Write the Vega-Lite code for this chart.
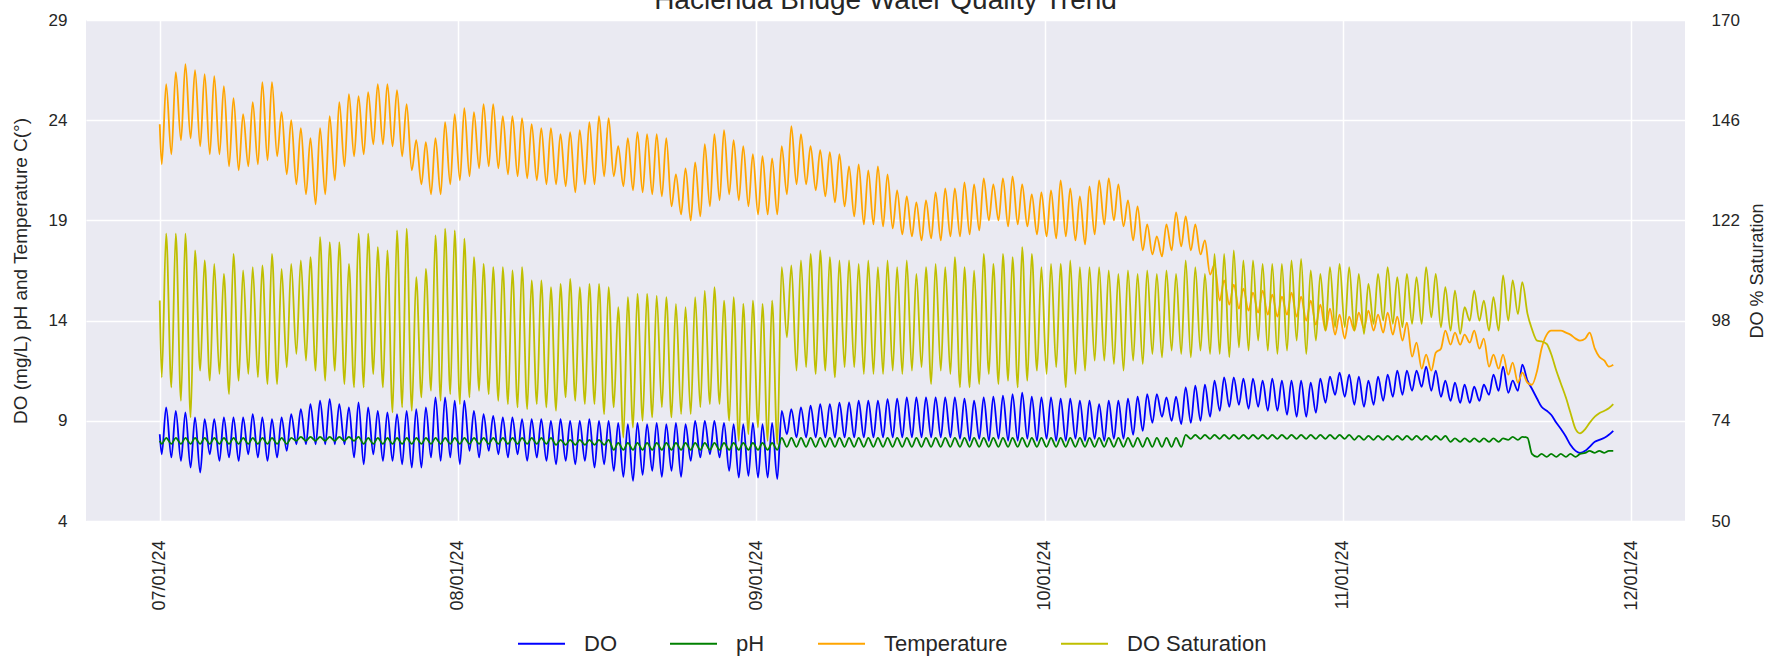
{
"$schema":"https://vega.github.io/schema/vega-lite/v6.json",
"width":1599,"height":501,"autosize":"none",
"padding":{"left":86,"top":20,"right":104,"bottom":139},
"title":{"text":"Hacienda Bridge Water Quality Trend","fontSize":28,"font":"Liberation Sans","fontWeight":"normal","color":"#262626","anchor":"middle","frame":"group","offset":-4},
"config":{
"view":{"fill":"#EAEAF2","stroke":null},
"font":"Liberation Sans",
"axis":{"domain":false,"ticks":false,"tickSize":0,"labelColor":"#262626","titleColor":"#262626","labelFont":"Liberation Sans","titleFont":"Liberation Sans","titleFontWeight":"normal","gridColor":"#FFFFFF","gridWidth":1.5,"gridOpacity":1,"labelFontSize":17,"titleFontSize":18},
"legend":{"labelFont":"Liberation Sans","labelColor":"#262626"}
},
"data":{"values":[
{"t":"2024-07-01T00:00","T":23.8,"S":102.8,"DO":8.33,"pH":8.0},
{"t":"2024-07-01T05:00","T":21.8,"S":84.4,"DO":7.33,"pH":7.85},{"t":"2024-07-01T16:00","T":25.8,"S":118.8,"DO":9.67,"pH":8.15},
{"t":"2024-07-02T05:00","T":22.3,"S":82,"DO":7.17,"pH":7.85},{"t":"2024-07-02T16:00","T":26.4,"S":118.8,"DO":9.5,"pH":8.15},
{"t":"2024-07-03T05:00","T":23.0,"S":78.8,"DO":7.0,"pH":7.85},{"t":"2024-07-03T16:00","T":26.8,"S":118.8,"DO":9.42,"pH":8.15},
{"t":"2024-07-04T05:00","T":23.1,"S":74.8,"DO":6.67,"pH":7.85},{"t":"2024-07-04T16:00","T":26.5,"S":114.8,"DO":9.17,"pH":8.15},
{"t":"2024-07-05T05:00","T":22.7,"S":86,"DO":6.42,"pH":7.85},{"t":"2024-07-05T16:00","T":26.3,"S":112.4,"DO":9.08,"pH":8.15},
{"t":"2024-07-06T05:00","T":22.3,"S":83.6,"DO":7.33,"pH":7.85},{"t":"2024-07-06T16:00","T":26.2,"S":111.6,"DO":9.08,"pH":8.15},
{"t":"2024-07-07T05:00","T":22.3,"S":85.2,"DO":7.0,"pH":7.85},{"t":"2024-07-07T16:00","T":25.7,"S":109.2,"DO":9.17,"pH":8.15},
{"t":"2024-07-08T05:00","T":21.7,"S":80.4,"DO":7.17,"pH":7.85},{"t":"2024-07-08T16:00","T":25.1,"S":114,"DO":9.17,"pH":8.15},
{"t":"2024-07-09T05:00","T":21.5,"S":83.6,"DO":7.0,"pH":7.85},{"t":"2024-07-09T16:00","T":24.3,"S":110,"DO":9.17,"pH":8.15},
{"t":"2024-07-10T05:00","T":21.7,"S":85.2,"DO":7.33,"pH":7.85},{"t":"2024-07-10T16:00","T":24.9,"S":110.8,"DO":9.33,"pH":8.15},
{"t":"2024-07-11T05:00","T":21.8,"S":84.4,"DO":7.17,"pH":7.85},{"t":"2024-07-11T16:00","T":25.9,"S":111.2,"DO":9.17,"pH":8.15},
{"t":"2024-07-12T05:00","T":22.0,"S":82.8,"DO":7.0,"pH":7.85},{"t":"2024-07-12T16:00","T":25.9,"S":114,"DO":9.08,"pH":8.15},
{"t":"2024-07-13T05:00","T":22.2,"S":82.8,"DO":7.17,"pH":7.85},{"t":"2024-07-13T16:00","T":24.4,"S":110.4,"DO":9.17,"pH":8.15},
{"t":"2024-07-14T05:00","T":21.3,"S":86.8,"DO":7.5,"pH":7.85},{"t":"2024-07-14T16:00","T":24.0,"S":111.6,"DO":9.33,"pH":8.15},
{"t":"2024-07-15T05:00","T":20.8,"S":90,"DO":7.83,"pH":8.0},{"t":"2024-07-15T16:00","T":23.6,"S":112.4,"DO":9.58,"pH":8.2},
{"t":"2024-07-16T05:00","T":20.3,"S":88.4,"DO":7.83,"pH":8.0},{"t":"2024-07-16T16:00","T":23.1,"S":113.2,"DO":9.83,"pH":8.2},
{"t":"2024-07-17T05:00","T":19.8,"S":86,"DO":7.83,"pH":8.0},{"t":"2024-07-17T16:00","T":23.6,"S":118,"DO":10.0,"pH":8.2},
{"t":"2024-07-18T05:00","T":20.3,"S":83.6,"DO":7.83,"pH":8.0},{"t":"2024-07-18T16:00","T":24.2,"S":116.8,"DO":10.08,"pH":8.2},
{"t":"2024-07-19T05:00","T":21.0,"S":86,"DO":7.83,"pH":8.0},{"t":"2024-07-19T16:00","T":24.9,"S":116.8,"DO":9.83,"pH":8.2},
{"t":"2024-07-20T05:00","T":21.7,"S":82.8,"DO":7.83,"pH":8.0},{"t":"2024-07-20T16:00","T":25.3,"S":111.6,"DO":9.67,"pH":8.2},
{"t":"2024-07-21T05:00","T":22.2,"S":82,"DO":7.17,"pH":8.0},{"t":"2024-07-21T16:00","T":25.2,"S":118.8,"DO":9.92,"pH":8.2},
{"t":"2024-07-22T05:00","T":22.3,"S":82,"DO":6.83,"pH":7.85},{"t":"2024-07-22T16:00","T":25.4,"S":118.8,"DO":9.67,"pH":8.15},
{"t":"2024-07-23T05:00","T":22.8,"S":85.2,"DO":7.33,"pH":7.85},{"t":"2024-07-23T16:00","T":25.8,"S":115.6,"DO":9.5,"pH":8.15},
{"t":"2024-07-24T05:00","T":22.8,"S":82,"DO":7.0,"pH":7.85},{"t":"2024-07-24T16:00","T":25.8,"S":114.8,"DO":9.42,"pH":8.15},
{"t":"2024-07-25T05:00","T":22.7,"S":76,"DO":7.0,"pH":7.85},{"t":"2024-07-25T16:00","T":25.5,"S":119.6,"DO":9.33,"pH":8.15},
{"t":"2024-07-26T05:00","T":22.2,"S":77.2,"DO":6.83,"pH":7.85},{"t":"2024-07-26T16:00","T":24.8,"S":120,"DO":9.5,"pH":8.15},
{"t":"2024-07-27T05:00","T":21.5,"S":76.4,"DO":6.67,"pH":7.85},{"t":"2024-07-27T16:00","T":23.0,"S":108.4,"DO":9.58,"pH":8.15},
{"t":"2024-07-28T05:00","T":20.8,"S":79.6,"DO":6.67,"pH":7.85},{"t":"2024-07-28T16:00","T":22.9,"S":110.4,"DO":9.67,"pH":8.15},
{"t":"2024-07-29T05:00","T":20.3,"S":81.2,"DO":7.17,"pH":7.85},{"t":"2024-07-29T16:00","T":23.1,"S":118.4,"DO":10.17,"pH":8.15},
{"t":"2024-07-30T05:00","T":20.3,"S":78.8,"DO":7.0,"pH":7.85},{"t":"2024-07-30T16:00","T":23.9,"S":120,"DO":10.17,"pH":8.15},
{"t":"2024-07-31T05:00","T":20.8,"S":80.4,"DO":7.17,"pH":7.85},{"t":"2024-07-31T16:00","T":24.3,"S":119.6,"DO":10.0,"pH":8.15},
{"t":"2024-08-01T05:00","T":21.0,"S":78,"DO":6.83,"pH":7.85},{"t":"2024-08-01T16:00","T":24.6,"S":117.6,"DO":10.0,"pH":8.15},
{"t":"2024-08-02T05:00","T":21.2,"S":79.6,"DO":7.5,"pH":7.85},{"t":"2024-08-02T16:00","T":24.4,"S":113.2,"DO":9.5,"pH":8.15},
{"t":"2024-08-03T05:00","T":21.6,"S":81.2,"DO":7.17,"pH":7.85},{"t":"2024-08-03T16:00","T":24.8,"S":111.6,"DO":9.33,"pH":8.15},
{"t":"2024-08-04T05:00","T":21.7,"S":80.4,"DO":7.5,"pH":7.85},{"t":"2024-08-04T16:00","T":24.8,"S":110.8,"DO":9.25,"pH":8.15},
{"t":"2024-08-05T05:00","T":21.6,"S":78.8,"DO":7.33,"pH":7.85},{"t":"2024-08-05T16:00","T":24.2,"S":110.8,"DO":9.17,"pH":8.15},
{"t":"2024-08-06T05:00","T":21.3,"S":78,"DO":7.17,"pH":7.85},{"t":"2024-08-06T16:00","T":24.2,"S":110,"DO":9.17,"pH":8.15},
{"t":"2024-08-07T05:00","T":21.2,"S":77.2,"DO":7.33,"pH":7.85},{"t":"2024-08-07T16:00","T":24.1,"S":110.8,"DO":9.08,"pH":8.15},
{"t":"2024-08-08T05:00","T":21.1,"S":76.8,"DO":7.0,"pH":7.85},{"t":"2024-08-08T16:00","T":23.8,"S":107.6,"DO":9.08,"pH":8.15},
{"t":"2024-08-09T05:00","T":21.0,"S":78,"DO":7.17,"pH":7.85},{"t":"2024-08-09T16:00","T":23.6,"S":107.6,"DO":9.08,"pH":8.15},
{"t":"2024-08-10T05:00","T":20.8,"S":77.2,"DO":7.0,"pH":7.85},{"t":"2024-08-10T16:00","T":23.6,"S":106,"DO":9.0,"pH":8.15},
{"t":"2024-08-11T05:00","T":20.8,"S":76.4,"DO":6.83,"pH":7.8},{"t":"2024-08-11T16:00","T":23.3,"S":106.8,"DO":9.08,"pH":8.05},
{"t":"2024-08-12T05:00","T":20.7,"S":79.6,"DO":7.0,"pH":7.8},{"t":"2024-08-12T16:00","T":23.4,"S":108,"DO":9.0,"pH":8.05},
{"t":"2024-08-13T05:00","T":20.4,"S":78.8,"DO":6.83,"pH":7.8},{"t":"2024-08-13T16:00","T":23.5,"S":106,"DO":9.0,"pH":8.05},
{"t":"2024-08-14T05:00","T":20.8,"S":78,"DO":7.0,"pH":7.8},{"t":"2024-08-14T16:00","T":23.9,"S":106.8,"DO":9.08,"pH":8.05},
{"t":"2024-08-15T05:00","T":20.8,"S":78,"DO":6.67,"pH":7.8},{"t":"2024-08-15T16:00","T":24.2,"S":106.8,"DO":9.0,"pH":8.05},
{"t":"2024-08-16T05:00","T":21.2,"S":75.6,"DO":6.83,"pH":7.8},{"t":"2024-08-16T16:00","T":24.1,"S":106,"DO":9.0,"pH":8.05},
{"t":"2024-08-17T05:00","T":21.2,"S":77.2,"DO":6.5,"pH":7.55},{"t":"2024-08-17T16:00","T":22.7,"S":101.2,"DO":8.9,"pH":7.9},
{"t":"2024-08-18T05:00","T":20.7,"S":70,"DO":6.2,"pH":7.55},{"t":"2024-08-18T16:00","T":23.1,"S":103.6,"DO":8.83,"pH":7.9},
{"t":"2024-08-19T05:00","T":20.5,"S":72.4,"DO":6.0,"pH":7.55},{"t":"2024-08-19T16:00","T":23.4,"S":104.4,"DO":8.9,"pH":7.9},
{"t":"2024-08-20T05:00","T":20.4,"S":74,"DO":6.3,"pH":7.55},{"t":"2024-08-20T16:00","T":23.3,"S":104.4,"DO":8.83,"pH":7.9},
{"t":"2024-08-21T05:00","T":20.3,"S":74.8,"DO":6.5,"pH":7.55},{"t":"2024-08-21T16:00","T":23.3,"S":104,"DO":8.9,"pH":7.9},
{"t":"2024-08-22T05:00","T":20.2,"S":77.2,"DO":6.2,"pH":7.55},{"t":"2024-08-22T16:00","T":23.1,"S":103.6,"DO":8.83,"pH":7.9},
{"t":"2024-08-23T05:00","T":19.7,"S":74.8,"DO":6.5,"pH":7.55},{"t":"2024-08-23T16:00","T":21.3,"S":102,"DO":8.9,"pH":7.9},
{"t":"2024-08-24T05:00","T":19.3,"S":75.6,"DO":6.2,"pH":7.55},{"t":"2024-08-24T16:00","T":21.6,"S":101.2,"DO":8.83,"pH":7.9},
{"t":"2024-08-25T05:00","T":19.0,"S":75.6,"DO":7.0,"pH":7.55},{"t":"2024-08-25T16:00","T":21.9,"S":103.6,"DO":9.0,"pH":7.9},
{"t":"2024-08-26T05:00","T":19.2,"S":77.2,"DO":7.17,"pH":7.55},{"t":"2024-08-26T16:00","T":22.8,"S":105.2,"DO":9.0,"pH":7.9},
{"t":"2024-08-27T05:00","T":19.7,"S":78,"DO":7.33,"pH":7.55},{"t":"2024-08-27T16:00","T":23.3,"S":106,"DO":9.0,"pH":7.9},
{"t":"2024-08-28T05:00","T":20.0,"S":78,"DO":7.17,"pH":7.55},{"t":"2024-08-28T16:00","T":23.5,"S":102.8,"DO":8.9,"pH":7.9},
{"t":"2024-08-29T05:00","T":20.3,"S":74,"DO":6.5,"pH":7.55},{"t":"2024-08-29T16:00","T":23.0,"S":103.6,"DO":8.83,"pH":7.9},
{"t":"2024-08-30T05:00","T":20.0,"S":69.2,"DO":6.17,"pH":7.55},{"t":"2024-08-30T16:00","T":22.7,"S":102,"DO":8.83,"pH":7.9},
{"t":"2024-08-31T05:00","T":19.7,"S":70.8,"DO":6.25,"pH":7.55},{"t":"2024-08-31T16:00","T":22.3,"S":102.8,"DO":8.9,"pH":7.9},
{"t":"2024-09-01T05:00","T":19.3,"S":72.4,"DO":6.17,"pH":7.55},{"t":"2024-09-01T16:00","T":22.2,"S":102,"DO":8.83,"pH":7.9},
{"t":"2024-09-02T05:00","T":19.3,"S":69.2,"DO":6.17,"pH":7.55},{"t":"2024-09-02T16:00","T":22.1,"S":102.8,"DO":8.9,"pH":7.9},
{"t":"2024-09-03T05:00","T":19.3,"S":68.4,"DO":6.1,"pH":7.55},{"t":"2024-09-03T16:00","T":22.7,"S":110.8,"DO":9.5,"pH":8.15},
{"t":"2024-09-04T05:00","T":20.3,"S":94,"DO":8.33,"pH":7.7},{"t":"2024-09-04T16:00","T":23.7,"S":111.2,"DO":9.58,"pH":8.15},
{"t":"2024-09-05T05:00","T":20.8,"S":86,"DO":8.17,"pH":7.7},{"t":"2024-09-05T16:00","T":23.3,"S":112.4,"DO":9.67,"pH":8.15},
{"t":"2024-09-06T05:00","T":20.8,"S":86.8,"DO":8.17,"pH":7.7},{"t":"2024-09-06T16:00","T":22.7,"S":114,"DO":9.75,"pH":8.15},
{"t":"2024-09-07T05:00","T":20.5,"S":85.2,"DO":8.17,"pH":7.7},{"t":"2024-09-07T16:00","T":22.5,"S":114.8,"DO":9.83,"pH":8.15},
{"t":"2024-09-08T05:00","T":20.2,"S":86,"DO":8.17,"pH":7.7},{"t":"2024-09-08T16:00","T":22.4,"S":113.2,"DO":9.83,"pH":8.15},
{"t":"2024-09-09T05:00","T":19.9,"S":84.4,"DO":8.17,"pH":7.7},{"t":"2024-09-09T16:00","T":22.3,"S":112.4,"DO":9.9,"pH":8.15},
{"t":"2024-09-10T05:00","T":19.7,"S":86.8,"DO":8.17,"pH":7.7},{"t":"2024-09-10T16:00","T":21.7,"S":112.4,"DO":9.92,"pH":8.15},
{"t":"2024-09-11T05:00","T":19.2,"S":86.8,"DO":8.17,"pH":7.7},{"t":"2024-09-11T16:00","T":21.8,"S":111.6,"DO":10.0,"pH":8.15},
{"t":"2024-09-12T05:00","T":18.8,"S":85.2,"DO":8.17,"pH":7.7},{"t":"2024-09-12T16:00","T":21.5,"S":112.4,"DO":10.0,"pH":8.15},
{"t":"2024-09-13T05:00","T":18.8,"S":85.2,"DO":8.17,"pH":7.7},{"t":"2024-09-13T16:00","T":21.7,"S":110.8,"DO":10.0,"pH":8.15},
{"t":"2024-09-14T05:00","T":18.7,"S":85.2,"DO":8.17,"pH":7.7},{"t":"2024-09-14T16:00","T":21.3,"S":112.4,"DO":10.08,"pH":8.15},
{"t":"2024-09-15T05:00","T":18.6,"S":86,"DO":8.17,"pH":7.7},{"t":"2024-09-15T16:00","T":20.5,"S":110.8,"DO":10.1,"pH":8.15},
{"t":"2024-09-16T05:00","T":18.3,"S":85.2,"DO":8.17,"pH":7.7},{"t":"2024-09-16T16:00","T":20.2,"S":112.4,"DO":10.17,"pH":8.15},
{"t":"2024-09-17T05:00","T":18.2,"S":86,"DO":8.17,"pH":7.7},{"t":"2024-09-17T16:00","T":19.9,"S":109.2,"DO":10.17,"pH":8.15},
{"t":"2024-09-18T05:00","T":18.0,"S":86.8,"DO":8.17,"pH":7.7},{"t":"2024-09-18T16:00","T":20.0,"S":110.8,"DO":10.17,"pH":8.15},
{"t":"2024-09-19T05:00","T":18.1,"S":82.8,"DO":8.17,"pH":7.7},{"t":"2024-09-19T16:00","T":20.4,"S":111.6,"DO":10.17,"pH":8.15},
{"t":"2024-09-20T05:00","T":18.0,"S":86,"DO":8.17,"pH":7.7},{"t":"2024-09-20T16:00","T":20.6,"S":110.8,"DO":10.17,"pH":8.15},
{"t":"2024-09-21T05:00","T":18.2,"S":85.2,"DO":8.17,"pH":7.7},{"t":"2024-09-21T16:00","T":20.6,"S":113.2,"DO":10.17,"pH":8.15},
{"t":"2024-09-22T05:00","T":18.2,"S":82,"DO":8.1,"pH":7.7},{"t":"2024-09-22T16:00","T":20.9,"S":110.8,"DO":10.1,"pH":8.15},
{"t":"2024-09-23T05:00","T":18.3,"S":82,"DO":8.0,"pH":7.7},{"t":"2024-09-23T16:00","T":20.8,"S":110,"DO":10.0,"pH":8.15},
{"t":"2024-09-24T05:00","T":18.5,"S":82.8,"DO":8.1,"pH":7.7},{"t":"2024-09-24T16:00","T":21.1,"S":114,"DO":10.17,"pH":8.15},
{"t":"2024-09-25T05:00","T":19.0,"S":85.2,"DO":8.0,"pH":7.7},{"t":"2024-09-25T16:00","T":20.8,"S":111.6,"DO":10.2,"pH":8.15},
{"t":"2024-09-26T05:00","T":19.0,"S":82.8,"DO":8.1,"pH":7.7},{"t":"2024-09-26T16:00","T":21.1,"S":114,"DO":10.25,"pH":8.15},
{"t":"2024-09-27T05:00","T":18.7,"S":83.6,"DO":8.0,"pH":7.7},{"t":"2024-09-27T16:00","T":21.2,"S":113.2,"DO":10.33,"pH":8.15},
{"t":"2024-09-28T05:00","T":18.8,"S":82,"DO":8.0,"pH":7.7},{"t":"2024-09-28T16:00","T":20.8,"S":115.6,"DO":10.4,"pH":8.15},
{"t":"2024-09-29T05:00","T":18.7,"S":83.6,"DO":8.1,"pH":7.7},{"t":"2024-09-29T16:00","T":20.3,"S":114,"DO":10.2,"pH":8.15},
{"t":"2024-09-30T05:00","T":18.3,"S":86,"DO":8.0,"pH":7.7},{"t":"2024-09-30T16:00","T":20.4,"S":110.8,"DO":10.17,"pH":8.15},
{"t":"2024-10-01T05:00","T":18.2,"S":85.2,"DO":8.1,"pH":7.7},{"t":"2024-10-01T16:00","T":20.5,"S":111.6,"DO":10.17,"pH":8.15},
{"t":"2024-10-02T05:00","T":18.1,"S":86.8,"DO":8.0,"pH":7.7},{"t":"2024-10-02T16:00","T":21.0,"S":111.6,"DO":10.1,"pH":8.15},
{"t":"2024-10-03T05:00","T":18.2,"S":82,"DO":8.0,"pH":7.7},{"t":"2024-10-03T16:00","T":20.6,"S":112.4,"DO":10.1,"pH":8.15},
{"t":"2024-10-04T05:00","T":18.0,"S":85.2,"DO":8.1,"pH":7.7},{"t":"2024-10-04T16:00","T":20.2,"S":110.8,"DO":10.0,"pH":8.15},
{"t":"2024-10-05T05:00","T":17.8,"S":86,"DO":8.0,"pH":7.7},{"t":"2024-10-05T16:00","T":20.7,"S":110.8,"DO":10.0,"pH":8.15},
{"t":"2024-10-06T05:00","T":18.3,"S":88.4,"DO":8.1,"pH":7.7},{"t":"2024-10-06T16:00","T":21.0,"S":110.8,"DO":9.83,"pH":8.15},
{"t":"2024-10-07T05:00","T":18.8,"S":88.4,"DO":8.0,"pH":7.7},{"t":"2024-10-07T16:00","T":21.1,"S":110,"DO":10.0,"pH":8.15},
{"t":"2024-10-08T05:00","T":19.0,"S":87.6,"DO":8.1,"pH":7.7},{"t":"2024-10-08T16:00","T":20.8,"S":109.2,"DO":10.0,"pH":8.15},
{"t":"2024-10-09T05:00","T":18.7,"S":86,"DO":8.1,"pH":7.7},{"t":"2024-10-09T16:00","T":20.0,"S":110,"DO":10.1,"pH":8.15},
{"t":"2024-10-10T05:00","T":18.0,"S":88.4,"DO":8.3,"pH":7.7},{"t":"2024-10-10T16:00","T":19.7,"S":109.2,"DO":10.2,"pH":8.15},
{"t":"2024-10-11T05:00","T":17.5,"S":87.6,"DO":8.5,"pH":7.7},{"t":"2024-10-11T16:00","T":18.8,"S":110,"DO":10.33,"pH":8.15},
{"t":"2024-10-12T05:00","T":17.3,"S":90,"DO":8.9,"pH":7.7},{"t":"2024-10-12T16:00","T":18.2,"S":109.2,"DO":10.33,"pH":8.15},
{"t":"2024-10-13T05:00","T":17.2,"S":89.2,"DO":9.2,"pH":7.7},{"t":"2024-10-13T16:00","T":18.8,"S":110,"DO":10.17,"pH":8.15},
{"t":"2024-10-14T05:00","T":17.5,"S":90.8,"DO":9.0,"pH":7.7},{"t":"2024-10-14T16:00","T":19.4,"S":109.2,"DO":10.2,"pH":8.15},
{"t":"2024-10-15T05:00","T":17.7,"S":90,"DO":8.83,"pH":7.7},{"t":"2024-10-15T16:00","T":19.2,"S":112.4,"DO":10.67,"pH":8.3},
{"t":"2024-10-16T05:00","T":17.5,"S":89.2,"DO":8.9,"pH":8.1},{"t":"2024-10-16T16:00","T":18.8,"S":110.8,"DO":10.75,"pH":8.3},
{"t":"2024-10-17T05:00","T":17.3,"S":90.8,"DO":9.0,"pH":8.1},{"t":"2024-10-17T16:00","T":18.0,"S":109.2,"DO":10.8,"pH":8.3},
{"t":"2024-10-18T05:00","T":16.3,"S":90,"DO":9.2,"pH":8.1},{"t":"2024-10-18T16:00","T":16.8,"S":114,"DO":11.0,"pH":8.3},
{"t":"2024-10-19T05:00","T":15.0,"S":90,"DO":9.5,"pH":8.1},{"t":"2024-10-19T16:00","T":16.0,"S":114,"DO":11.17,"pH":8.3},
{"t":"2024-10-20T05:00","T":14.8,"S":89.2,"DO":9.7,"pH":8.1},{"t":"2024-10-20T16:00","T":15.8,"S":114.8,"DO":11.17,"pH":8.3},
{"t":"2024-10-21T05:00","T":14.6,"S":91.6,"DO":9.8,"pH":8.1},{"t":"2024-10-21T16:00","T":15.6,"S":112.4,"DO":11.1,"pH":8.3},
{"t":"2024-10-22T05:00","T":14.5,"S":90.8,"DO":9.6,"pH":8.1},{"t":"2024-10-22T16:00","T":15.4,"S":112.4,"DO":11.1,"pH":8.3},
{"t":"2024-10-23T05:00","T":14.4,"S":93.2,"DO":9.7,"pH":8.1},{"t":"2024-10-23T16:00","T":15.5,"S":111.6,"DO":11.0,"pH":8.3},
{"t":"2024-10-24T05:00","T":14.3,"S":90.8,"DO":9.5,"pH":8.1},{"t":"2024-10-24T16:00","T":15.3,"S":111.6,"DO":11.1,"pH":8.3},
{"t":"2024-10-25T05:00","T":14.2,"S":90,"DO":9.5,"pH":8.1},{"t":"2024-10-25T16:00","T":15.2,"S":111.6,"DO":11.0,"pH":8.3},
{"t":"2024-10-26T05:00","T":14.3,"S":90.8,"DO":9.3,"pH":8.1},{"t":"2024-10-26T16:00","T":15.4,"S":112.4,"DO":11.0,"pH":8.3},
{"t":"2024-10-27T05:00","T":14.2,"S":93.2,"DO":9.2,"pH":8.1},{"t":"2024-10-27T16:00","T":15.2,"S":112.8,"DO":11.0,"pH":8.3},
{"t":"2024-10-28T05:00","T":14.0,"S":90,"DO":9.2,"pH":8.1},{"t":"2024-10-28T16:00","T":15.0,"S":110,"DO":10.9,"pH":8.3},
{"t":"2024-10-29T05:00","T":13.8,"S":93.2,"DO":9.4,"pH":8.1},{"t":"2024-10-29T16:00","T":14.8,"S":109.2,"DO":11.1,"pH":8.3},
{"t":"2024-10-30T05:00","T":13.5,"S":95.6,"DO":9.9,"pH":8.1},{"t":"2024-10-30T16:00","T":14.6,"S":110.8,"DO":11.2,"pH":8.3},
{"t":"2024-10-31T05:00","T":13.3,"S":96.4,"DO":10.3,"pH":8.1},{"t":"2024-10-31T16:00","T":14.3,"S":111.6,"DO":11.4,"pH":8.3},
{"t":"2024-11-01T05:00","T":13.1,"S":96.4,"DO":10.2,"pH":8.1},{"t":"2024-11-01T16:00","T":14.2,"S":110.8,"DO":11.3,"pH":8.3},
{"t":"2024-11-02T05:00","T":13.5,"S":95.6,"DO":9.8,"pH":8.05},{"t":"2024-11-02T16:00","T":14.4,"S":109.2,"DO":11.2,"pH":8.25},
{"t":"2024-11-03T05:00","T":13.6,"S":94.8,"DO":9.7,"pH":8.05},{"t":"2024-11-03T16:00","T":14.5,"S":106.8,"DO":11.0,"pH":8.25},
{"t":"2024-11-04T05:00","T":13.5,"S":97.2,"DO":9.8,"pH":8.05},{"t":"2024-11-04T16:00","T":14.3,"S":109.2,"DO":11.2,"pH":8.25},
{"t":"2024-11-05T05:00","T":13.4,"S":98,"DO":10.0,"pH":8.05},{"t":"2024-11-05T16:00","T":14.4,"S":110.8,"DO":11.3,"pH":8.25},
{"t":"2024-11-06T05:00","T":13.3,"S":97.2,"DO":10.2,"pH":8.05},{"t":"2024-11-06T16:00","T":14.2,"S":108.4,"DO":11.5,"pH":8.25},
{"t":"2024-11-07T05:00","T":13.0,"S":96.4,"DO":10.3,"pH":8.05},{"t":"2024-11-07T16:00","T":13.9,"S":109.2,"DO":11.5,"pH":8.25},
{"t":"2024-11-08T05:00","T":12.2,"S":97.2,"DO":10.5,"pH":8.05},{"t":"2024-11-08T16:00","T":12.9,"S":108.4,"DO":11.5,"pH":8.25},
{"t":"2024-11-09T05:00","T":11.6,"S":97.2,"DO":10.7,"pH":8.05},{"t":"2024-11-09T16:00","T":12.3,"S":110.8,"DO":11.7,"pH":8.25},
{"t":"2024-11-10T05:00","T":11.5,"S":98.8,"DO":10.5,"pH":8.05},{"t":"2024-11-10T16:00","T":12.4,"S":109.2,"DO":11.5,"pH":8.25},
{"t":"2024-11-11T05:00","T":12.6,"S":96.4,"DO":10.2,"pH":8.05},{"t":"2024-11-11T16:00","T":13.5,"S":106,"DO":11.0,"pH":8.25},
{"t":"2024-11-12T05:00","T":12.8,"S":95.6,"DO":10.0,"pH":7.95},{"t":"2024-11-12T16:00","T":13.4,"S":105.2,"DO":10.9,"pH":8.12},
{"t":"2024-11-13T05:00","T":12.8,"S":94.8,"DO":9.9,"pH":7.95},{"t":"2024-11-13T16:00","T":13.3,"S":101.2,"DO":10.8,"pH":8.12},
{"t":"2024-11-14T05:00","T":12.9,"S":98,"DO":9.9,"pH":7.95},{"t":"2024-11-14T16:00","T":13.5,"S":105.2,"DO":10.7,"pH":8.12},
{"t":"2024-11-15T05:00","T":12.6,"S":98,"DO":10.0,"pH":7.95},{"t":"2024-11-15T16:00","T":13.1,"S":102.8,"DO":10.8,"pH":8.12},
{"t":"2024-11-16T05:00","T":11.7,"S":95.6,"DO":10.3,"pH":7.95},{"t":"2024-11-16T16:00","T":12.3,"S":103.6,"DO":11.3,"pH":8.12},
{"t":"2024-11-17T05:00","T":11.6,"S":95.6,"DO":10.5,"pH":7.95},{"t":"2024-11-17T16:00","T":12.3,"S":108.8,"DO":11.7,"pH":8.12},
{"t":"2024-11-18T05:00","T":11.3,"S":98,"DO":10.4,"pH":8.05},{"t":"2024-11-18T16:00","T":11.9,"S":107.6,"DO":11.0,"pH":8.2},
{"t":"2024-11-19T05:00","T":10.9,"S":99.6,"DO":10.5,"pH":8.05},{"t":"2024-11-19T16:00","T":11.4,"S":107.2,"DO":11.8,"pH":8.2},
{"t":"2024-11-20T05:00","T":10.9,"S":99.6,"DO":11.0,"pH":8.15},{"t":"2024-11-20T16:00","T":10.8,"S":96,"DO":10.6,"pH":7.35},
{"t":"2024-11-21T05:00","T":11.5,"S":93.2,"DO":10.1,"pH":7.2},{"t":"2024-11-21T16:00","T":12.6,"S":93,"DO":9.7,"pH":7.35},
{"t":"2024-11-22T05:00","T":13.3,"S":92.4,"DO":9.5,"pH":7.2},{"t":"2024-11-22T16:00","T":13.5,"S":90,"DO":9.3,"pH":7.35},
{"t":"2024-11-23T05:00","T":13.5,"S":86,"DO":8.9,"pH":7.2},{"t":"2024-11-23T16:00","T":13.5,"S":83,"DO":8.6,"pH":7.35},
{"t":"2024-11-24T05:00","T":13.4,"S":79.5,"DO":8.2,"pH":7.2},{"t":"2024-11-24T16:00","T":13.3,"S":76,"DO":7.8,"pH":7.35},
{"t":"2024-11-25T05:00","T":13.1,"S":72,"DO":7.5,"pH":7.2},{"t":"2024-11-25T16:00","T":13.0,"S":71,"DO":7.4,"pH":7.35},
{"t":"2024-11-26T05:00","T":13.1,"S":72,"DO":7.5,"pH":7.4},{"t":"2024-11-26T16:00","T":13.4,"S":73.5,"DO":7.7,"pH":7.5},
{"t":"2024-11-27T05:00","T":12.6,"S":75,"DO":7.95,"pH":7.4},{"t":"2024-11-27T16:00","T":12.2,"S":75.8,"DO":8.05,"pH":7.5},
{"t":"2024-11-28T05:00","T":12.0,"S":76.4,"DO":8.15,"pH":7.4},{"t":"2024-11-28T16:00","T":11.7,"S":77,"DO":8.3,"pH":7.5},
{"t":"2024-11-29T03:00","T":11.8,"S":78,"DO":8.5,"pH":7.5}
]},
"layer":[
{"transform":[{"fold":["DO","pH","T"],"as":["k","v"]}],
"mark":{"type":"line","strokeWidth":1.8,"interpolate":"monotone","clip":true},
"encoding":{
"x":{"field":"t","type":"temporal","scale":{"domain":[{"year":2024,"month":6,"date":23,"hours":8},{"year":2024,"month":12,"date":6,"hours":14}]},
"axis":{"title":null,"values":[{"year":2024,"month":7,"date":1},{"year":2024,"month":8,"date":1},{"year":2024,"month":9,"date":1},{"year":2024,"month":10,"date":1},{"year":2024,"month":11,"date":1},{"year":2024,"month":12,"date":1}],"format":"%m/%d/%y","labelAngle":-90,"labelFontSize":18,"labelPadding":19,"labelOverlap":false,"grid":true}},
"y":{"field":"v","type":"quantitative","scale":{"domain":[4,29],"nice":false,"zero":false},
"axis":{"title":"DO (mg/L) pH and Temperature C(°)","values":[4,9,14,19,24,29],"labelPadding":19,"titleFontSize":19,"titlePadding":18,"grid":true}},
"color":{"field":"k","type":"nominal","scale":{"domain":["DO","pH","T","S"],"range":["#0000FF","#008000","#FFA500","#BFBF00"]},
"legend":{"orient":"none","legendX":431,"legendY":599,"direction":"horizontal","title":null,"symbolType":"stroke","symbolSize":2209,"symbolStrokeWidth":2,"labelFontSize":22,"labelOffset":18,"columnPadding":49,"labelExpr":"datum.label == 'T' ? 'Temperature' : datum.label == 'S' ? 'DO Saturation' : datum.label"}}
}},
{"transform":[{"fold":["S"],"as":["k","v"]}],
"mark":{"type":"line","strokeWidth":1.8,"interpolate":"monotone","clip":true},
"encoding":{
"x":{"field":"t","type":"temporal"},
"y":{"field":"v","type":"quantitative","scale":{"domain":[50,170],"nice":false,"zero":false},
"axis":{"orient":"right","title":"DO % Saturation","values":[50,74,98,122,146,170],"grid":false,"labelPadding":26,"titlePadding":27,"titleAngle":-90}},
"color":{"field":"k","type":"nominal","scale":{"domain":["DO","pH","T","S"],"range":["#0000FF","#008000","#FFA500","#BFBF00"]}}
}}
],
"resolve":{"scale":{"y":"independent"}}
}
